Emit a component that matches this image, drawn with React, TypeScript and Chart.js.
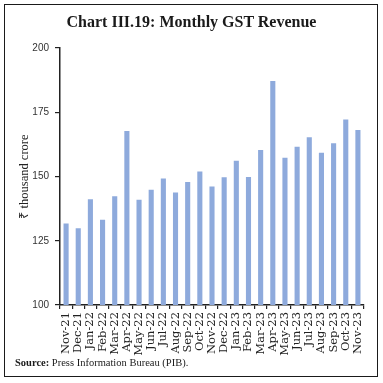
import React, { useEffect, useRef } from "react";
import { Chart, registerables } from "chart.js";

Chart.register(...registerables);

const categories = [
  "Nov-21", "Dec-21", "Jan-22", "Feb-22", "Mar-22", "Apr-22", "May-22", "Jun-22",
  "Jul-22", "Aug-22", "Sep-22", "Oct-22", "Nov-22", "Dec-22", "Jan-23", "Feb-23",
  "Mar-23", "Apr-23", "May-23", "Jun-23", "Jul-23", "Aug-23", "Sep-23", "Oct-23", "Nov-23",
];

const gstRevenue = [
  131.7, 129.9, 141.1, 133.2, 142.3, 167.7, 141.0, 144.8, 149.2, 143.8, 147.9, 151.9,
  146.1, 149.7, 156.1, 149.8, 160.3, 187.2, 157.3, 161.6, 165.3, 159.2, 162.9, 172.2, 168.1,
];

const yMin = 100;
const yMax = 200;
const yStep = 25;

export default function App() {
  const ref = useRef<HTMLCanvasElement>(null);

  useEffect(() => {
    if (!ref.current) return;
    const chart = new Chart(ref.current, {
      type: "bar",
      data: {
        labels: categories,
        datasets: [
          {
            data: gstRevenue,
            backgroundColor: "#8eaadc",
            borderWidth: 0,
            categoryPercentage: 1,
            barPercentage: 0.42,
          },
        ],
      },
      options: {
        animation: false,
        responsive: false,
        maintainAspectRatio: false,
        layout: { padding: { left: 0, right: 19, top: 48, bottom: 0 } },
        plugins: {
          legend: { display: false },
          tooltip: { enabled: false },
          title: { display: false },
        },
        scales: {
          x: {
            offset: true,
            grid: {
              display: true,
              drawOnChartArea: false,
              drawTicks: true,
              tickLength: 4,
              color: "#222",
              lineWidth: 1.2,
              offset: true,
            },
            border: { display: true, color: "#222", width: 1.5 },
            ticks: {
              autoSkip: false,
              maxRotation: 90,
              minRotation: 90,
              padding: 3,
              color: "#222",
              font: { family: "'DejaVu Serif', serif", size: 11.5 },
            },
            afterFit: (scale: any) => {
              scale.height = 78;
            },
          },
          y: {
            min: yMin,
            max: yMax,
            grid: {
              display: true,
              drawOnChartArea: false,
              drawTicks: true,
              tickLength: 5,
              color: "#222",
              lineWidth: 1.2,
            },
            border: { display: true, color: "#222", width: 1.5 },
            ticks: {
              stepSize: yStep,
              padding: 6,
              color: "#333",
              font: { family: "'Liberation Sans', sans-serif", size: 10 },
            },
            title: {
              display: true,
              text: "₹ thousand crore",
              color: "#222",
              padding: { top: 17, bottom: 0 },
              font: { family: "'Liberation Serif', serif", size: 12.5 },
            },
            afterFit: (scale: any) => {
              scale.width = 60;
            },
          },
        },
      },
    });
    return () => chart.destroy();
  }, []);

  return (
    <div style={{ position: "fixed", left: 0, top: 0, width: 383, height: 383, background: "#fff" }}>
      <canvas ref={ref} width={383} height={383} style={{ position: "absolute", left: 0, top: 0, width: 383, height: 383 }} />
      <div
        style={{
          position: "absolute",
          left: 4,
          top: 4,
          width: 374,
          height: 373,
          border: "1px solid #1a1a1a",
          boxSizing: "border-box",
          pointerEvents: "none",
        }}
      />
      <div
        style={{
          position: "absolute",
          left: 0,
          top: 12,
          width: 383,
          textAlign: "center",
          fontFamily: "'Liberation Serif', serif",
          fontWeight: "bold",
          fontSize: 16,
          lineHeight: "20px",
          color: "#1a1a1a",
        }}
      >
        Chart III.19: Monthly GST Revenue
      </div>
      <div
        style={{
          position: "absolute",
          left: 15,
          top: 356,
          fontFamily: "'Liberation Serif', serif",
          fontSize: 10.5,
          lineHeight: "14px",
          color: "#1a1a1a",
          whiteSpace: "nowrap",
        }}
      >
        <b>Source:</b> Press Information Bureau (PIB).
      </div>
    </div>
  );
}
